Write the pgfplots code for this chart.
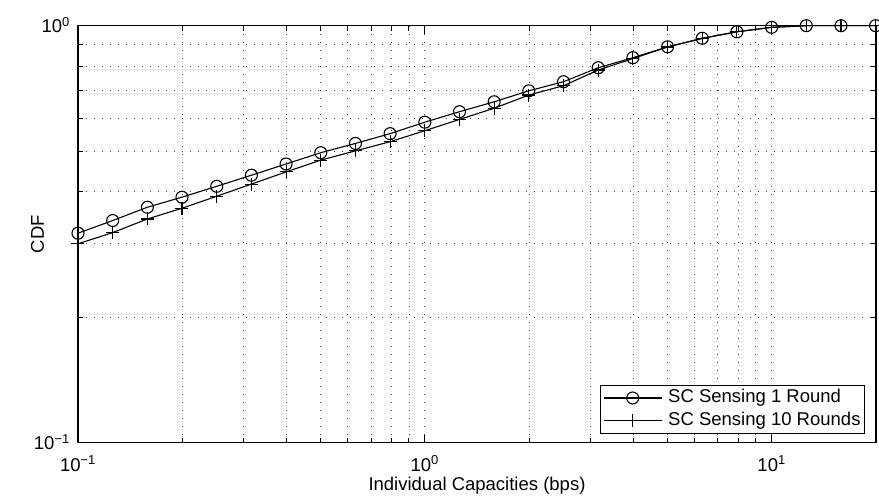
\documentclass[border=0pt]{standalone}
\usepackage{fontspec}
\setmainfont{Liberation Sans}
\usepackage{pgfplots}
\pgfplotsset{compat=1.18}
\newcommand{\lbl}{\fontsize{18.5}{22}\selectfont}

% CDF of individual capacities (x values every tenth of a decade)
\pgfplotstableread{
x       y
0.1     0.318
0.1259  0.341
0.1585  0.367
0.1995  0.388
0.2512  0.412
0.3162  0.438
0.3981  0.466
0.5012  0.496
0.6310  0.522
0.7943  0.551
1.0     0.587
1.259   0.622
1.585   0.657
1.995   0.698
2.512   0.734
3.162   0.793
3.981   0.838
5.012   0.890
6.310   0.933
7.943   0.967
10.0    0.991
12.59   1.0
15.85   1.0
19.95   1.0
}\oneround
\pgfplotstableread{
x       y
0.1     0.300
0.1259  0.319
0.1585  0.344
0.1995  0.365
0.2512  0.390
0.3162  0.417
0.3981  0.446
0.5012  0.476
0.6310  0.501
0.7943  0.527
1.0     0.560
1.259   0.596
1.585   0.634
1.995   0.682
2.512   0.718
3.162   0.783
3.981   0.834
5.012   0.889
6.310   0.932
7.943   0.967
10.0    0.991
12.59   1.0
15.85   1.0
19.95   1.0
}\tenrounds

\begin{document}
\begin{tikzpicture}
\begin{loglogaxis}[
  scale only axis, width=798pt, height=417pt,
  xmin=0.1, xmax=20, ymin=0.1, ymax=1,
  xtick={0.1,1,10},
  xticklabels={{10\textsuperscript{−1}},{10\textsuperscript{0}},{10\textsuperscript{1}}},
  ytick={0.1,1},
  yticklabels={{10\textsuperscript{−1}},{10\textsuperscript{0}}},
  minor xtick={0.2,0.3,0.4,0.5,0.6,0.7,0.8,0.9,2,3,4,5,6,7,8,9},
  minor ytick={0.2,0.3,0.4,0.5,0.6,0.7,0.8,0.9},
  xmajorgrids, xminorgrids, ymajorgrids, yminorgrids,
  major grid style={black!75, line width=0.8pt, dash pattern=on 1pt off 7pt},
  minor grid style={black!75, line width=0.8pt, dash pattern=on 1pt off 7pt},
  axis line style={line width=1.1pt},
  every tick/.style={black, line width=0.9pt},
  major tick length=8pt, minor tick length=5pt,
  xticklabel style={font=\lbl, anchor=base, inner sep=0pt, yshift=-28.5pt},
  yticklabel style={font=\lbl, anchor=base east, inner sep=0pt, xshift=-8pt, yshift=-6.65pt},
  xlabel={Individual Capacities (bps)},
  ylabel={CDF},
  xlabel style={font=\lbl, at={(axis description cs:0.5,0)}, anchor=base, inner sep=0pt, yshift=-48pt},
  ylabel style={font=\lbl, at={(axis description cs:-0.0508,0.5)}, anchor=center, inner sep=0pt},
  clip mode=individual,
  legend cell align=left,
  legend image code/.code={\draw[mark repeat=2,mark phase=2,#1] plot coordinates {(0pt,0pt) (29pt,0pt) (58pt,0pt)};},
  legend style={at={(0.9862,0.0216)}, anchor=south east, font=\lbl, draw=black,
    line width=0.9pt, fill=white, inner sep=3pt, row sep=3pt, column sep=5pt,
    nodes={inner sep=1pt, text height=13.5pt, text depth=4pt}},
]
\addplot[black, line width=1.1pt, mark=o, mark size=6pt, mark options={solid}] table[x=x,y=y] {\oneround};
\addlegendentry{SC Sensing 1 Round}
\addplot[black, line width=1.1pt, mark=+, mark size=6.5pt, mark options={solid}] table[x=x,y=y] {\tenrounds};
\addlegendentry{SC Sensing 10 Rounds}
\coordinate (bl) at (rel axis cs:0,0);
\coordinate (tr) at (rel axis cs:1,1);
\end{loglogaxis}
\pgfresetboundingbox
\path ([shift={(-78pt,-54pt)}]bl) rectangle ([shift={(3pt,25.7pt)}]tr);
\end{tikzpicture}
\end{document}
